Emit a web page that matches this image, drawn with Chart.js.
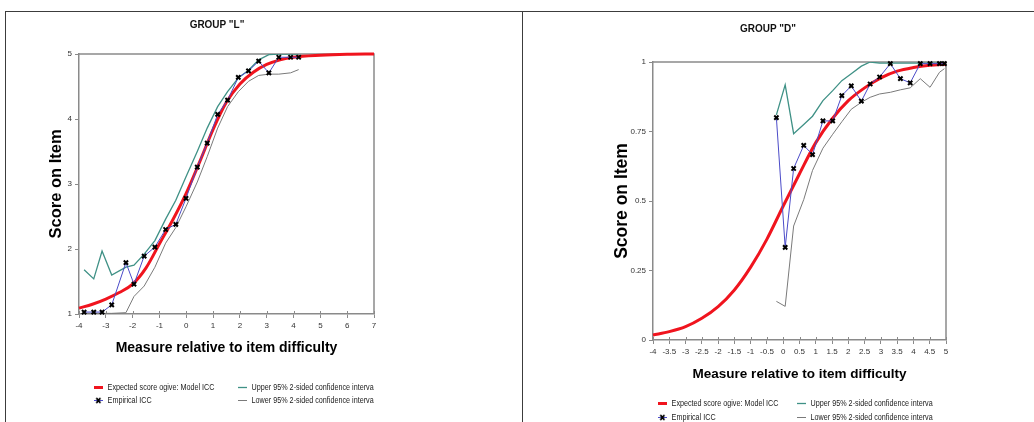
<!DOCTYPE html>
<html>
<head>
<meta charset="utf-8">
<script src="https://cdn.jsdelivr.net/npm/chart.js@4.4.1/dist/chart.umd.min.js"></script>
<style>
html,body{margin:0;padding:0;background:#fff;}
body{width:1034px;height:422px;position:relative;overflow:hidden;font-family:'Liberation Sans',Arial,sans-serif;}
.frame{position:absolute;background:#3c3c3c;}
.panel{position:absolute;top:0;}
.ptitle{position:absolute;font-weight:bold;font-size:10.5px;color:#111;transform:translate(-50%,-50%) scaleX(0.95);white-space:nowrap;}
.item{position:absolute;display:flex;align-items:center;white-space:nowrap;transform:translateY(-50%) scaleX(0.8);transform-origin:left center;font-size:9px;color:#222;}
.item canvas{margin-right:6px;}
</style>
</head>
<body>
<div class="frame" style="left:5px;top:11px;width:1029px;height:1px"></div>
<div class="frame" style="left:5px;top:11px;width:1px;height:411px"></div>
<div class="frame" style="left:522px;top:11px;width:1px;height:411px"></div>

<canvas id="chartL" class="panel" style="left:0" width="520" height="422"></canvas>
<canvas id="chartD" class="panel" style="left:520px" width="514" height="422"></canvas>
<div class="ptitle" style="left:217px;top:24px">GROUP "L"</div>
<div class="ptitle" style="left:768px;top:28px">GROUP "D"</div>
<div id="legL"></div>
<div id="legD"></div>

<script>
'use strict';
// ── labels ───────────────────────────────────────────
const LBL_MODEL = 'Expected score ogive: Model ICC';
const LBL_EMP   = 'Empirical ICC';
const LBL_UPPER = 'Upper 95% 2-sided confidence interva';
const LBL_LOWER = 'Lower 95% 2-sided confidence interva';
const X_TITLE = 'Measure relative to item difficulty';
const Y_TITLE = 'Score on Item';

// ── GROUP "L" ────────────────────────────────────────
const L_X_TICKS = [-4, 7, 1];      // min, max, step
const L_Y_TICKS = [1, 5, 1];
const L_MODEL_X = [-4,-3.5,-3,-2.5,-2,-1.5,-1,-0.5,0,0.5,1,1.5,2,2.5,3,3.5,4,5,6,7];
const L_MODEL   = [1.09,1.15,1.23,1.33,1.46,1.71,2.08,2.45,2.86,3.34,3.84,4.26,4.54,4.72,4.84,4.91,4.95,4.98,4.995,5.0];
const L_X     = [-3.81,-3.45,-3.14,-2.78,-2.25,-1.95,-1.57,-1.17,-0.77,-0.39,-0.01,0.41,0.78,1.17,1.54,1.94,2.32,2.70,3.08,3.45,3.89,4.19];
const L_EMP   = [1.03,1.03,1.03,1.14,1.79,1.46,1.89,2.03,2.30,2.38,2.78,3.26,3.63,4.07,4.29,4.64,4.74,4.89,4.71,4.95,4.95,4.95];
const L_UPPER = [1.68,1.54,1.97,1.60,1.72,1.75,1.92,2.13,2.46,2.75,3.11,3.50,3.86,4.19,4.42,4.63,4.75,4.91,4.99,5.0,5.0,5.0];
const L_LOWER = [1.01,1.01,1.01,1.01,1.02,1.27,1.43,1.72,2.09,2.33,2.65,3.03,3.42,3.86,4.19,4.42,4.58,4.67,4.69,4.69,4.71,4.76];

// ── GROUP "D" ────────────────────────────────────────
const D_X_TICKS = [-4, 5, 0.5];
const D_Y_TICKS = [0, 1, 0.25];
const D_MODEL_X = [-4,-3.5,-3,-2.5,-2,-1.5,-1,-0.5,0,0.5,1,1.5,2,2.5,3,3.5,4,4.5,5];
const D_MODEL   = [0.018,0.03,0.048,0.078,0.12,0.18,0.262,0.363,0.482,0.598,0.71,0.795,0.861,0.907,0.943,0.967,0.98,0.988,0.992];
const D_X     = [-0.21,0.06,0.32,0.63,0.90,1.22,1.52,1.80,2.09,2.40,2.67,2.96,3.29,3.60,3.90,4.21,4.51,4.80,4.95];
const D_EMP   = [0.80,0.333,0.617,0.70,0.667,0.788,0.788,0.879,0.914,0.859,0.921,0.946,0.994,0.940,0.925,0.994,0.994,0.994,0.994];
const D_UPPER = [0.81,0.918,0.742,0.775,0.805,0.861,0.897,0.933,0.958,0.985,1.0,0.996,0.996,0.996,0.996,0.996,0.996,0.996,0.996];
const D_LOWER = [0.139,0.121,0.41,0.505,0.61,0.69,0.74,0.785,0.83,0.855,0.873,0.885,0.891,0.90,0.907,0.94,0.909,0.963,0.976];

const C_MODEL = '#f0141e', C_EMP = '#4b4bc8', C_UPPER = '#3f9186', C_LOWER = '#7a7a7a', C_AXIS = '#8a8a8a';
const SANS = "'Liberation Sans',Arial,sans-serif";

const pts = (xs, ys) => xs.map((x, i) => ({x, y: ys[i]}));

function makeDatasets(mx, m, xs, emp, up, lo) {
  return [
    {label: LBL_MODEL, data: pts(mx, m), borderColor: C_MODEL, borderWidth: 3, pointRadius: 0, cubicInterpolationMode: 'monotone', order: 1, clip: 4},
    {label: LBL_UPPER, data: pts(xs, up), borderColor: C_UPPER, borderWidth: 1.3, pointRadius: 0, order: 2},
    {label: LBL_EMP, data: pts(xs, emp), borderColor: C_EMP, borderWidth: 1, pointStyle: 'crossRot', pointRadius: 3, pointBorderWidth: 2, pointBorderColor: '#000', order: 0, clip: 5},
    {label: LBL_LOWER, data: pts(xs, lo), borderColor: C_LOWER, borderWidth: 1, pointRadius: 0, order: 3}
  ];
}

// top/right edge of the plot box + tick marks that cross the x axis
const plotBox = {
  id: 'plotBox',
  beforeDatasetsDraw(chart) {
    const {ctx, chartArea: a} = chart, sx = chart.scales.x;
    ctx.save();
    ctx.strokeStyle = C_AXIS; ctx.lineWidth = 1.5;
    ctx.beginPath(); ctx.moveTo(a.left, a.top); ctx.lineTo(a.right, a.top); ctx.lineTo(a.right, a.bottom); ctx.stroke();
    ctx.lineWidth = 1; ctx.beginPath();
    sx.ticks.forEach(t => { const p = Math.round(sx.getPixelForValue(t.value)) + 0.5; ctx.moveTo(p, a.bottom - 3); ctx.lineTo(p, a.bottom); });
    ctx.stroke();
    ctx.restore();
  }
};

function makeChart(id, datasets, cfg) {
  const tickFont = {family: SANS, size: 8};
  return new Chart(document.getElementById(id), {
    type: 'line',
    data: {datasets},
    options: {
      responsive: false, animation: false, events: [],
      layout: {padding: cfg.pad},
      plugins: {legend: {display: false}, tooltip: {enabled: false}},
      scales: {
        x: {
          type: 'linear', min: cfg.xt[0], max: cfg.xt[1],
          ticks: {stepSize: cfg.xt[2], autoSkip: false, maxRotation: 0, padding: 3, color: '#333', font: tickFont, callback: v => String(v)},
          grid: {drawOnChartArea: false, tickLength: 4, color: C_AXIS},
          border: {color: C_AXIS, width: 1.5},
          title: {display: true, text: X_TITLE, color: '#000', padding: 0, font: {family: SANS, weight: 'bold', size: cfg.xtSize}},
          afterFit: s => { s.height = cfg.xH; }
        },
        y: {
          type: 'linear', min: cfg.yt[0], max: cfg.yt[1],
          ticks: {stepSize: cfg.yt[2], padding: 3, color: '#333', font: tickFont, callback: v => String(v)},
          grid: {drawOnChartArea: false, tickLength: 4, color: C_AXIS},
          border: {color: C_AXIS, width: 1.5},
          title: {display: true, text: Y_TITLE, color: '#000', padding: 0, font: {family: SANS, weight: 'bold', size: cfg.ytSize}},
          afterFit: s => { s.width = cfg.yW; }
        }
      }
    },
    plugins: [plotBox]
  });
}

function swatch(ds) {
  const c = document.createElement('canvas');
  c.width = 11; c.height = 9;
  const g = c.getContext('2d');
  g.strokeStyle = ds.borderColor; g.lineWidth = ds.borderWidth;
  g.beginPath(); g.moveTo(0, 4.5); g.lineTo(11, 4.5); g.stroke();
  if (ds.pointStyle === 'crossRot') {
    g.strokeStyle = '#000'; g.lineWidth = 2; g.beginPath();
    g.moveTo(3, 2); g.lineTo(8, 7); g.moveTo(8, 2); g.lineTo(3, 7); g.stroke();
  }
  return c;
}

function buildLegend(boxId, chart, cols, rows) {
  const box = document.getElementById(boxId);
  chart.data.datasets.forEach((ds, i) => {
    const it = document.createElement('div');
    it.className = 'item';
    it.style.left = cols[i % 2] + 'px';
    it.style.top = rows[Math.floor(i / 2)] + 'px';
    it.appendChild(swatch(ds));
    it.appendChild(document.createTextNode(ds.label));
    box.appendChild(it);
  });
}

const chartL = makeChart('chartL', makeDatasets(L_MODEL_X, L_MODEL, L_X, L_EMP, L_UPPER, L_LOWER),
  {xt: L_X_TICKS, yt: L_Y_TICKS, pad: {left: 47, right: 146, top: 54, bottom: 65}, yW: 32, xH: 43, xtSize: 14, ytSize: 16.5});
const chartD = makeChart('chartD', makeDatasets(D_MODEL_X, D_MODEL, D_X, D_EMP, D_UPPER, D_LOWER),
  {xt: D_X_TICKS, yt: D_Y_TICKS, pad: {left: 92, right: 88, top: 62, bottom: 40}, yW: 41, xH: 42, xtSize: 13.5, ytSize: 17.5});

buildLegend('legL', chartL, [94, 238], [387, 400]);
buildLegend('legD', chartD, [658, 797], [403, 417]);
</script>
</body>
</html>
